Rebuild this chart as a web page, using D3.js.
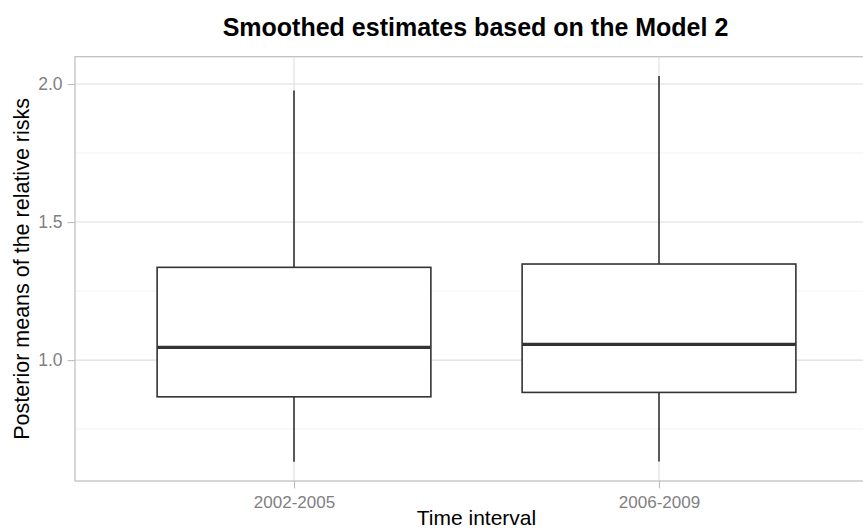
<!DOCTYPE html>
<html><head><meta charset="utf-8">
<script src="https://cdn.jsdelivr.net/npm/d3@7"></script>
<style>body{margin:0;background:#fff;} svg{display:block;font-family:"Liberation Sans",Arial,Helvetica,sans-serif;}</style>
</head><body>
<svg id="c" width="863" height="529"></svg>
<script>
const categories = ["2002-2005", "2006-2009"];
const whiskerLow = [0.632, 0.633];
const q1 = [0.867, 0.883];
const median = [1.046, 1.057];
const q3 = [1.336, 1.348];
const whiskerHigh = [1.976, 2.029];
const yTicks = [1.0, 1.5, 2.0];
const yMinor = [0.75, 1.25, 1.75];
const titleText = "Smoothed estimates based on the Model 2";
const xTitle = "Time interval";
const yTitle = "Posterior means of the relative risks";

const svg = d3.select("#c");
const L = 75, R = 878, T = 56.7, B = 481;
const data = categories.map((c,i)=>({c, lo:whiskerLow[i], q1:q1[i], med:median[i], q3:q3[i], hi:whiskerHigh[i]}));
const allv = data.flatMap(d=>[d.lo,d.hi]);
const mn = d3.min(allv), mx = d3.max(allv), pad = (mx-mn)*0.05;
const y = d3.scaleLinear().domain([mn-pad, mx+pad]).range([B, T]);
const x = d3.scalePoint().domain(categories).range([L, R]).padding(0.6);
const step = x.step();
const bw = step*0.75;

// minor grid
svg.append("g").selectAll("line").data(yMinor).join("line")
  .attr("x1",L).attr("x2",R).attr("y1",d=>y(d)).attr("y2",d=>y(d))
  .attr("stroke","#f0f0f0").attr("stroke-width",0.8);
// major grid
svg.append("g").selectAll("line").data(yTicks).join("line")
  .attr("x1",L).attr("x2",R).attr("y1",d=>y(d)).attr("y2",d=>y(d))
  .attr("stroke","#dedede").attr("stroke-width",1.1);
svg.append("g").selectAll("line").data(categories).join("line")
  .attr("y1",T).attr("y2",B).attr("x1",d=>x(d)).attr("x2",d=>x(d))
  .attr("stroke","#dedede").attr("stroke-width",1.1);

// panel border
svg.append("rect").attr("x",L).attr("y",T).attr("width",R-L).attr("height",B-T)
  .attr("fill","none").attr("stroke","#bdbdbd").attr("stroke-width",1.2);

// axes
const ya = d3.axisLeft(y).tickValues(yTicks).tickFormat(d3.format(".1f")).tickSize(7.5).tickPadding(5);
const gy = svg.append("g").attr("transform",`translate(${L},0)`).call(ya);
gy.select(".domain").remove();
gy.selectAll(".tick line").attr("stroke","#bdbdbd").attr("stroke-width",1.1);
gy.selectAll(".tick text").attr("fill","#7f7f7f").attr("font-size","17.5px").attr("font-family","Liberation Sans, Arial, sans-serif");

const xa = d3.axisBottom(x).tickSize(7.5).tickPadding(4);
const gx = svg.append("g").attr("transform",`translate(0,${B})`).call(xa);
gx.select(".domain").remove();
gx.selectAll(".tick line").attr("stroke","#bdbdbd").attr("stroke-width",1.1);
gx.selectAll(".tick text").attr("fill","#7f7f7f").attr("font-size","17px").attr("font-family","Liberation Sans, Arial, sans-serif")
  .attr("dy",null).attr("y",null);
gx.selectAll(".tick text").attr("y",26.5);

// boxes
const g = svg.append("g");
const bx = g.selectAll("g.box").data(data).join("g").attr("class","box");
bx.append("line").attr("x1",d=>x(d.c)).attr("x2",d=>x(d.c)).attr("y1",d=>y(d.hi)).attr("y2",d=>y(d.q3))
  .attr("stroke","#333").attr("stroke-width",1.6);
bx.append("line").attr("x1",d=>x(d.c)).attr("x2",d=>x(d.c)).attr("y1",d=>y(d.q1)).attr("y2",d=>y(d.lo))
  .attr("stroke","#333").attr("stroke-width",1.6);
bx.append("rect").attr("x",d=>x(d.c)-bw/2).attr("width",bw).attr("y",d=>y(d.q3)).attr("height",d=>y(d.q1)-y(d.q3))
  .attr("fill","#fff").attr("stroke","#333").attr("stroke-width",1.6);
bx.append("line").attr("x1",d=>x(d.c)-bw/2).attr("x2",d=>x(d.c)+bw/2).attr("y1",d=>y(d.med)).attr("y2",d=>y(d.med))
  .attr("stroke","#333").attr("stroke-width",3.4);

// titles
svg.append("text").attr("x",475.5).attr("y",36).attr("text-anchor","middle")
  .attr("font-size","25px").attr("font-weight","bold").attr("fill","#000").text(titleText);
svg.append("text").attr("x",476.5).attr("y",525).attr("text-anchor","middle")
  .attr("font-size","21px").attr("fill","#000").text(xTitle);
svg.append("text").attr("transform",`translate(28.5,${(T+B)/2}) rotate(-90)`).attr("text-anchor","middle")
  .attr("font-size","21.5px").attr("fill","#000").text(yTitle);
</script>
</body></html>
